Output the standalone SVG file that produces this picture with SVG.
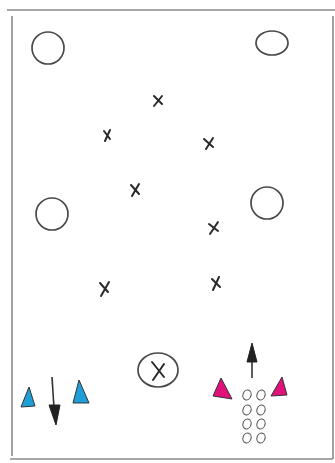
<svg xmlns="http://www.w3.org/2000/svg" width="335" height="463" viewBox="0 0 335 463">
<defs>
<style>
.b{fill:none;stroke:#8a8a8a;stroke-width:1.6}
.o{fill:none;stroke:#4a4a4a;stroke-width:1.7}
.x{fill:none;stroke:#2a2a2a;stroke-width:2;stroke-linecap:round}
.s{fill:none;stroke:#555;stroke-width:1.1}
.blue{fill:#1e9fd8;stroke:#333;stroke-width:1}
.mag{fill:#e0117a;stroke:#333;stroke-width:1}
.ar{stroke:#333;stroke-width:1.6;fill:none}
.ah{fill:#222;stroke:#222;stroke-width:1}
</style>
</defs>
<rect width="335" height="463" fill="#fff"/>
<g id="field">
<path class="b" d="M7,10 L335,10"/>
<path class="b" d="M12,16 L12,456"/>
<path class="b" d="M333,16 L333,459"/>
<path class="b" d="M10,459 L333,459"/>
</g>
<g id="cone-tl"><ellipse class="o" cx="48" cy="48" rx="16" ry="16"/></g>
<g id="cone-tr"><ellipse class="o" cx="272" cy="43" rx="16" ry="12"/></g>
<g id="cone-ml"><ellipse class="o" cx="52" cy="214" rx="16" ry="16"/></g>
<g id="cone-mr"><ellipse class="o" cx="267" cy="203" rx="16" ry="16"/></g>
<g id="x1"><path class="x" d="M154,96 L162,104 M162,96 L154,106"/></g>
<g id="x2"><path class="x" d="M104,131 L110,139 M110,130 L105,141"/></g>
<g id="x3"><path class="x" d="M204,139 L213,147 M213,138 L206,149"/></g>
<g id="x4"><path class="x" d="M131,185 L139,194 M139,184 L132,196"/></g>
<g id="x5"><path class="x" d="M209,224 L218,231 M218,222 L210,234"/></g>
<g id="x6"><path class="x" d="M100,283 L108,292 M109,282 L101,296"/></g>
<g id="x7"><path class="x" d="M212,279 L220,287 M219,277 L213,290"/></g>
<g id="goalie">
<ellipse class="o" cx="158" cy="370" rx="20" ry="17"/>
<path class="x" d="M152,362 L164,377 M164,364 L153,380"/>
</g>
<g id="blue-l"><path class="blue" d="M29,387 L35,406 L21,407 Z"/></g>
<g id="blue-r"><path class="blue" d="M79,380 L89,403 L73,403 Z"/></g>
<g id="mag-l"><path class="mag" d="M221,378 L232,399 L213,396 Z"/></g>
<g id="mag-r"><path class="mag" d="M282,377 L287,395 L271,396 Z"/></g>
<g id="players">
<ellipse class="s" cx="247" cy="395" rx="4" ry="5" transform="rotate(20 247 395)"/>
<ellipse class="s" cx="261" cy="395" rx="4" ry="5" transform="rotate(20 261 395)"/>
<ellipse class="s" cx="247" cy="410" rx="4" ry="5" transform="rotate(20 247 410)"/>
<ellipse class="s" cx="261" cy="410" rx="4" ry="5" transform="rotate(20 261 410)"/>
<ellipse class="s" cx="247" cy="424" rx="4" ry="5" transform="rotate(20 247 424)"/>
<ellipse class="s" cx="261" cy="424" rx="4" ry="5" transform="rotate(20 261 424)"/>
<ellipse class="s" cx="247" cy="438" rx="4" ry="5" transform="rotate(20 247 438)"/>
<ellipse class="s" cx="261" cy="438" rx="4" ry="5" transform="rotate(20 261 438)"/>
</g>
<g id="connectors">
<path class="ar" d="M52,377 L54,408"/>
<path class="ah" d="M49,405 L60,405 L56,425 Z"/>
<path class="ar" d="M252,378 L252,360"/>
<path class="ah" d="M247,362 L257,362 L252,343 Z"/>
</g>
</svg>
